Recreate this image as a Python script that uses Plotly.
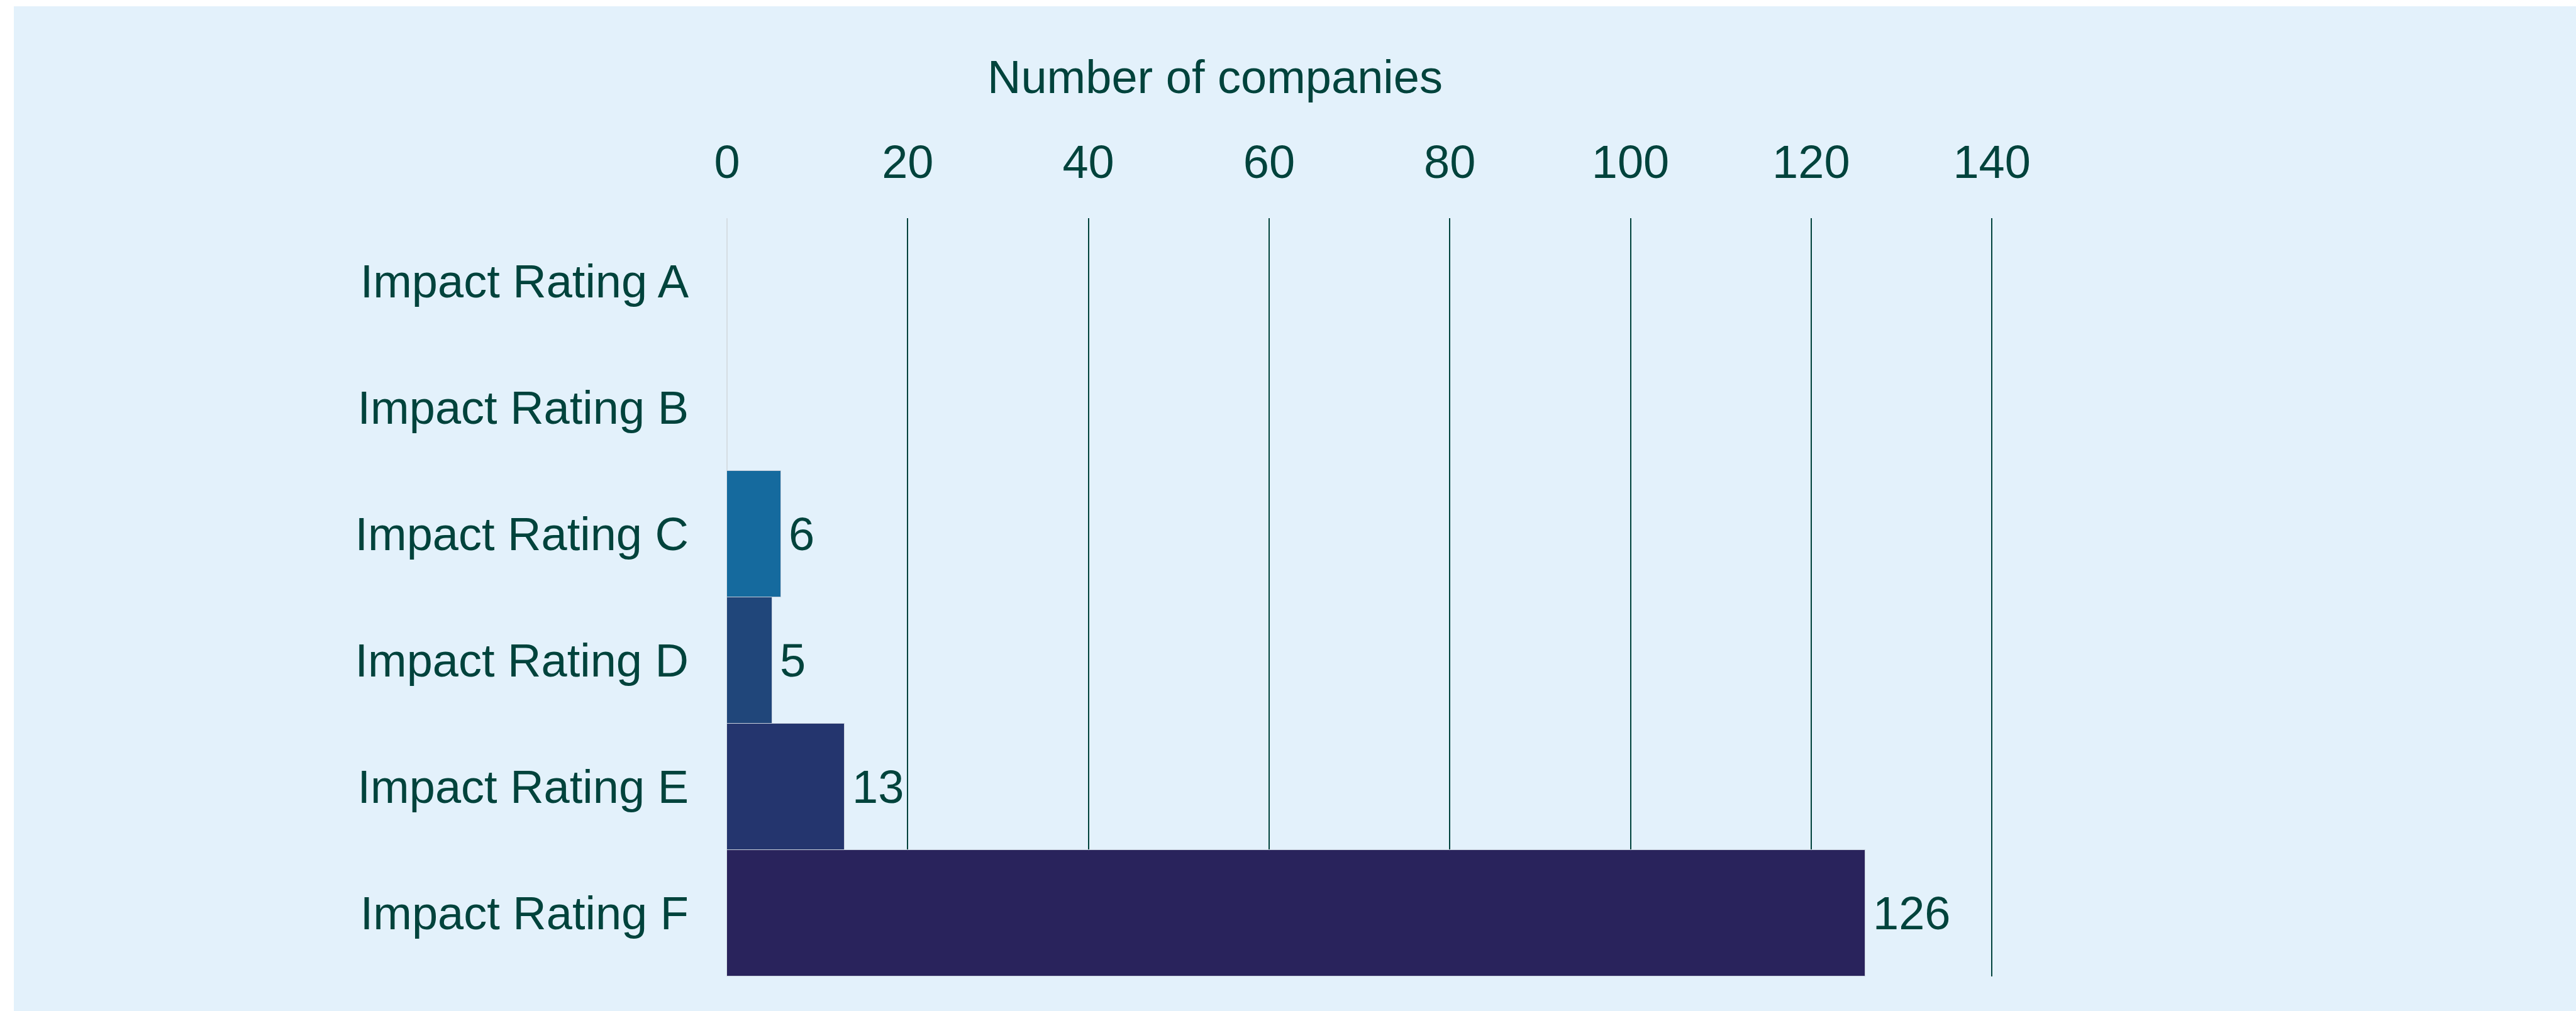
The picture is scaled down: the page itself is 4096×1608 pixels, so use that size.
import plotly.graph_objects as go

categories = ["Impact Rating A", "Impact Rating B", "Impact Rating C",
              "Impact Rating D", "Impact Rating E", "Impact Rating F"]
companies = [0, 0, 6, 5, 13, 126]
bar_colors = ["#156A9E", "#156A9E", "#156A9E", "#20467A", "#24356E", "#29235C"]
x_ticks = [0, 20, 40, 60, 80, 100, 120, 140]
axis_title = "Number of companies"

TEXT = "#00433C"
BG = "#E3F1FB"
FONT = "Liberation Sans, Arial, sans-serif"
FS = 74

W, H = 4096, 1608
L, R, T, B = 1156, 926, 347, 55
pw = W - L - R
ph = H - T - B

fig = go.Figure()
fig.add_trace(go.Bar(
    x=companies, y=categories, orientation="h",
    marker=dict(color=bar_colors, line=dict(color="#C9D0DC", width=1)),
    hoverinfo="skip",
))

for c, v in zip(categories, companies):
    if v > 0:
        fig.add_annotation(x=v, y=c, xref="x", yref="y", text=str(v),
                           showarrow=False, xanchor="left", yanchor="middle",
                           xshift=10, font=dict(family=FONT, size=FS, color=TEXT))

# title of value axis
fig.add_annotation(x=(1932 - L) / pw, y=(H - B - 122) / ph, xref="paper", yref="paper",
                   text=axis_title, showarrow=False, xanchor="center", yanchor="middle",
                   font=dict(family=FONT, size=FS, color=TEXT))

# light panel with white strip on top and left
fig.add_shape(type="rect", xref="paper", yref="paper",
              x0=(22 - L) / pw, x1=(W + 20 - L) / pw,
              y0=(H - B - H - 20) / ph, y1=(H - B - 10) / ph,
              fillcolor=BG, line=dict(width=0), layer="below")

fig.update_layout(
    width=W, height=H,
    margin=dict(l=L, r=R, t=T, b=B, pad=0),
    paper_bgcolor="white", plot_bgcolor=BG,
    bargap=0, showlegend=False,
    font=dict(family=FONT, size=FS, color=TEXT),
    xaxis=dict(side="top", range=[0, 140.2], tickvals=x_ticks,
               showgrid=True, gridcolor=TEXT, gridwidth=2,
               zeroline=True, zerolinecolor="#D5DDE3", zerolinewidth=2,
               showline=False, ticks="", ticklabelstandoff=48,
               tickfont=dict(family=FONT, size=FS, color=TEXT)),
    yaxis=dict(autorange="reversed", showgrid=False, zeroline=False,
               showline=False, ticks="", ticklabelstandoff=60,
               tickfont=dict(family=FONT, size=FS, color=TEXT)),
)

fig.write_html("out.html")
